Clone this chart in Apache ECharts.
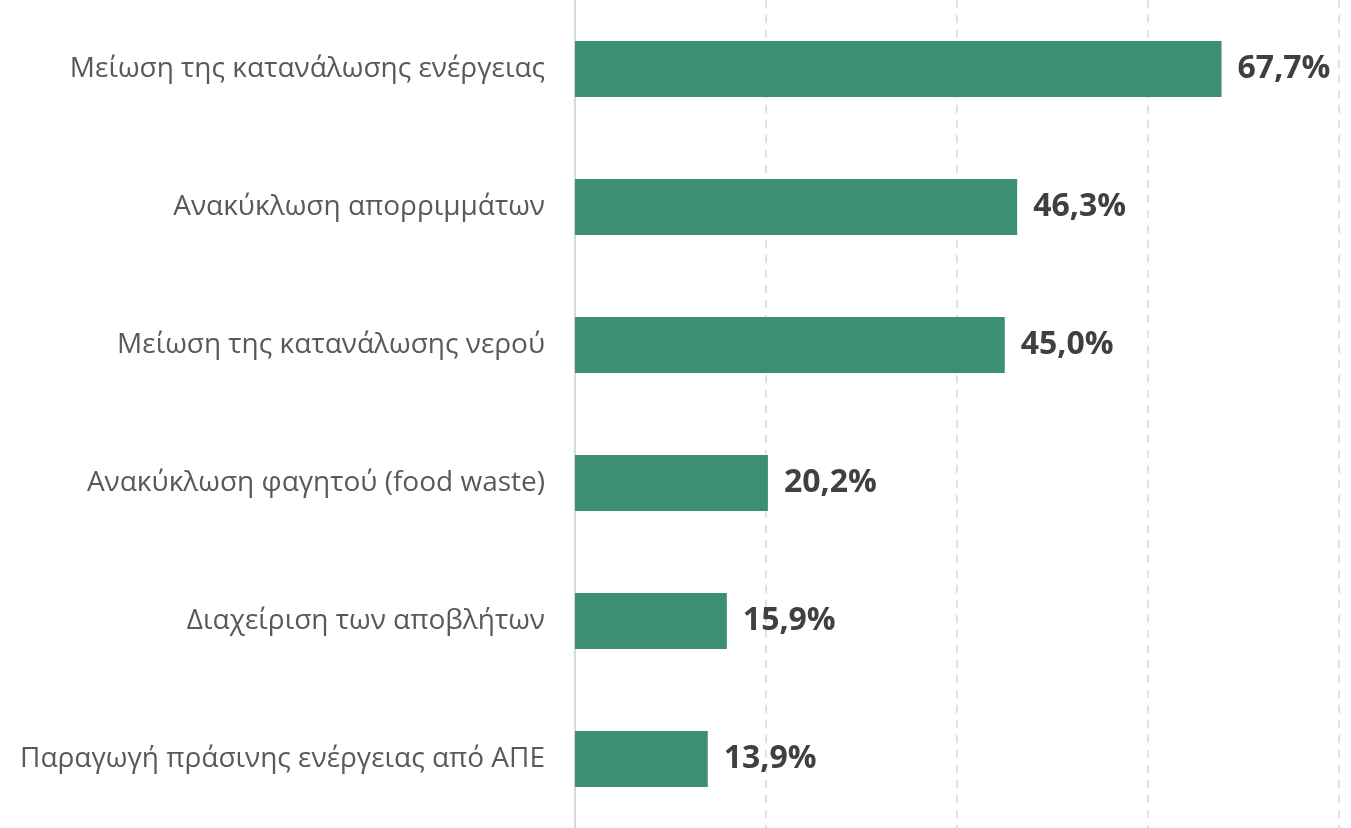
<!DOCTYPE html>
<html>
<head>
<meta charset="utf-8">
<script src="https://cdn.jsdelivr.net/npm/echarts@6/dist/echarts.min.js"></script>
<style>
  html, body { margin: 0; padding: 0; background: #fff; }
  #chart { width: 1351px; height: 828px; }
</style>
</head>
<body>
<div id="chart"></div>
<script>
  // κατηγορίες (από κάτω προς τα πάνω, όπως τις βάζει ο άξονας)
  const categories = [
    'Παραγωγή πράσινης ενέργειας από ΑΠΕ',
    'Διαχείριση των αποβλήτων',
    'Ανακύκλωση φαγητού (food waste)',
    'Μείωση της κατανάλωσης νερού',
    'Ανακύκλωση απορριμμάτων',
    'Μείωση της κατανάλωσης ενέργειας'
  ];
  const values = [13.9, 15.9, 20.2, 45.0, 46.3, 67.7];
  const xTicks = [0, 20, 40, 60, 80];

  const chart = echarts.init(document.getElementById('chart'));
  const option = {
    animation: false,
    grid: { left: 575, right: 12, top: -1, bottom: -1 },
    xAxis: {
      type: 'value',
      min: xTicks[0],
      max: xTicks[xTicks.length - 1],
      interval: 20,
      axisLabel: { show: false },
      axisLine: { show: false },
      axisTick: { show: false },
      splitLine: {
        show: true,
        lineStyle: { color: '#d9d9d9', type: [8, 7], width: 1.5 }
      }
    },
    yAxis: {
      type: 'category',
      data: categories,
      axisTick: { show: false },
      axisLine: { show: true, lineStyle: { color: '#d9d9d9', width: 2 } },
      axisLabel: {
        margin: 30,
        color: '#595959',
        fontFamily: 'Open Sans',
        fontSize: 28
      }
    },
    series: [
      {
        type: 'bar',
        data: values,
        barWidth: 56,
        itemStyle: { color: '#3c8f72' },
        label: {
          show: true,
          position: 'right',
          distance: 16,
          color: '#404040',
          fontFamily: 'Open Sans',
          fontWeight: 'bold',
          fontSize: 32,
          formatter: p => p.value.toFixed(1).replace('.', ',') + '%'
        }
      }
    ]
  };
  chart.setOption(option);
</script>
</body>
</html>
